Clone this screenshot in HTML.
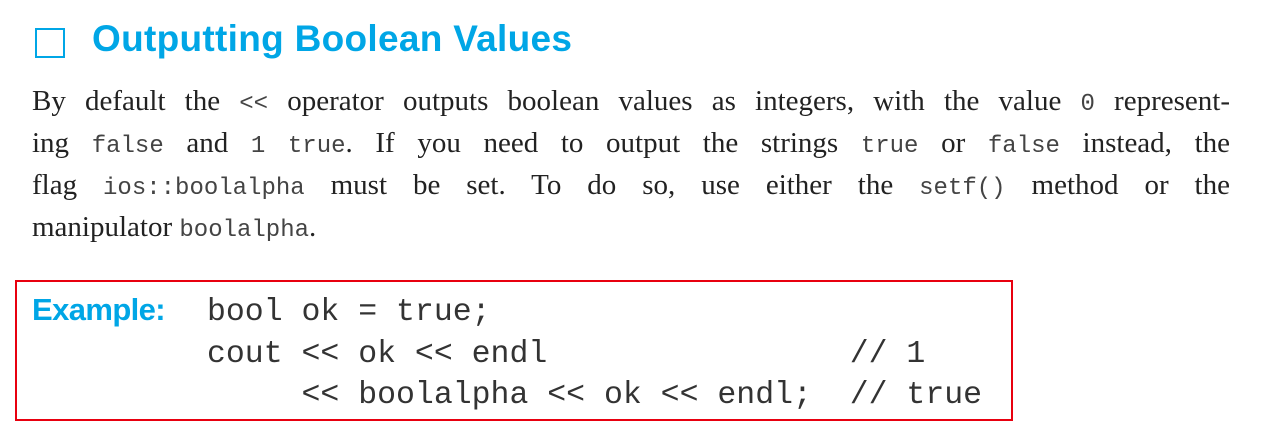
<!DOCTYPE html>
<html><head><meta charset="utf-8"><style>
body{margin:0;width:1265px;height:432px;background:#fff;position:relative;overflow:hidden}
.t{position:absolute;left:92px;top:18px;font:bold 37px "Liberation Sans",sans-serif;color:#00a6e6;letter-spacing:0.3px;white-space:nowrap}
.sq{position:absolute;left:35px;top:28px;width:26px;height:26px;border:2px solid #00a6e6}
.p{position:absolute;left:32px;width:1198px;font:29px "Liberation Serif",serif;color:#222;line-height:42px}
.p div{text-align:justify;text-align-last:justify;height:42px;white-space:nowrap}
.p div.l{text-align-last:left}
code{font:24px "Liberation Mono",monospace;color:#444}
.box{position:absolute;left:15px;top:280px;width:994px;height:137px;border:2px solid #e8000f}
.ex{position:absolute;left:32px;top:292px;font:bold 31px "Liberation Sans",sans-serif;color:#00a6e6;letter-spacing:-0.6px}
pre{position:absolute;left:207px;top:292px;margin:0;font:31.5px/41.5px "Liberation Mono",monospace;color:#333}
</style></head><body>
<div class="sq"></div>
<div class="t">Outputting Boolean Values</div>
<div class="p" style="top:80px">
<div>By default the <code>&lt;&lt;</code> operator outputs boolean values as integers, with the value <code>0</code> represent-</div>
<div>ing <code>false</code> and <code>1</code> <code>true</code>. If you need to output the strings <code>true</code> or <code>false</code> instead, the</div>
<div>flag <code>ios::boolalpha</code> must be set. To do so, use either the <code>setf()</code> method or the</div>
<div class="l">manipulator <code>boolalpha</code>.</div>
</div>
<div class="box"></div>
<div class="ex">Example:</div>
<pre>bool ok = true;
cout &lt;&lt; ok &lt;&lt; endl                // 1
     &lt;&lt; boolalpha &lt;&lt; ok &lt;&lt; endl;  // true</pre>
</body></html>
